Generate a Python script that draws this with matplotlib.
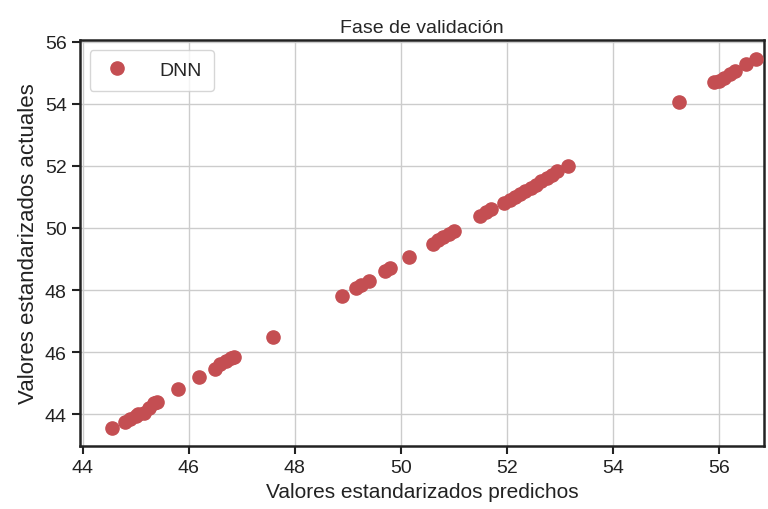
import matplotlib
matplotlib.use('Agg')
from matplotlib import pyplot as plt
from matplotlib import font_manager
import seaborn as sns

pred = [44.55, 44.8, 44.9, 45.0, 45.05, 45.15, 45.25, 45.35, 45.4,
        45.8, 46.2, 46.5, 46.6, 46.7, 46.8, 46.85, 47.6,
        48.9, 49.15, 49.25, 49.4, 49.7, 49.8, 50.15,
        50.6, 50.7, 50.8, 50.9, 51.0,
        51.5, 51.6, 51.7, 51.95, 52.05, 52.15, 52.25, 52.35, 52.45,
        52.55, 52.65, 52.75, 52.85, 52.95, 53.15,
        55.25, 55.9, 56.0, 56.1, 56.2, 56.3, 56.5, 56.7]
actual = [43.55, 43.75, 43.85, 43.95, 44.0, 44.05, 44.2, 44.35, 44.4,
          44.8, 45.2, 45.45, 45.6, 45.7, 45.8, 45.85, 46.5,
          47.8, 48.05, 48.15, 48.3, 48.6, 48.7, 49.05,
          49.5, 49.6, 49.7, 49.8, 49.9,
          50.4, 50.5, 50.6, 50.8, 50.9, 51.0, 51.1, 51.2, 51.3,
          51.4, 51.5, 51.6, 51.7, 51.85, 52.0,
          54.05, 54.7, 54.75, 54.85, 54.95, 55.05, 55.3, 55.45]

sns.set_style('ticks')
names = {f.name for f in font_manager.fontManager.ttflist}
fam = 'Liberation Sans Narrow' if 'Liberation Sans Narrow' in names else 'Liberation Sans'
plt.rcParams['font.family'] = [fam, 'DejaVu Sans']

fig = plt.figure(figsize=(7.68, 5.10), dpi=100)
ax = fig.add_axes([0.104, 0.1235, 0.891, 0.796])
ax.plot(pred, actual, 'o', color='#c44e52', ms=9.5, label='DNN', zorder=3)
ax.grid(True, color='#cccccc', linewidth=1)
ax.set_xlim(43.95, 56.85)
ax.set_ylim(42.97, 56.06)
ax.set_xticks([44, 46, 48, 50, 52, 54, 56])
ax.set_yticks([44, 46, 48, 50, 52, 54, 56])
for s in ax.spines.values():
    s.set_linewidth(1.8)
    s.set_color('#222222')
ax.tick_params(axis='both', labelsize=14, length=6, width=1.5, direction='out',
               color='#222222', labelcolor='#222222')
ax.set_title('Fase de validación', fontsize=14)
ax.set_xlabel('Valores estandarizados predichos', fontsize=15, color='#222222')
ax.set_ylabel('Valores estandarizados actuales', fontsize=16, color='#222222')
leg = ax.legend(loc='upper left', fontsize=14, frameon=True, borderpad=0.6,
                handletextpad=1.4, handlelength=1.6)
fig.savefig('out.png', dpi=100)
